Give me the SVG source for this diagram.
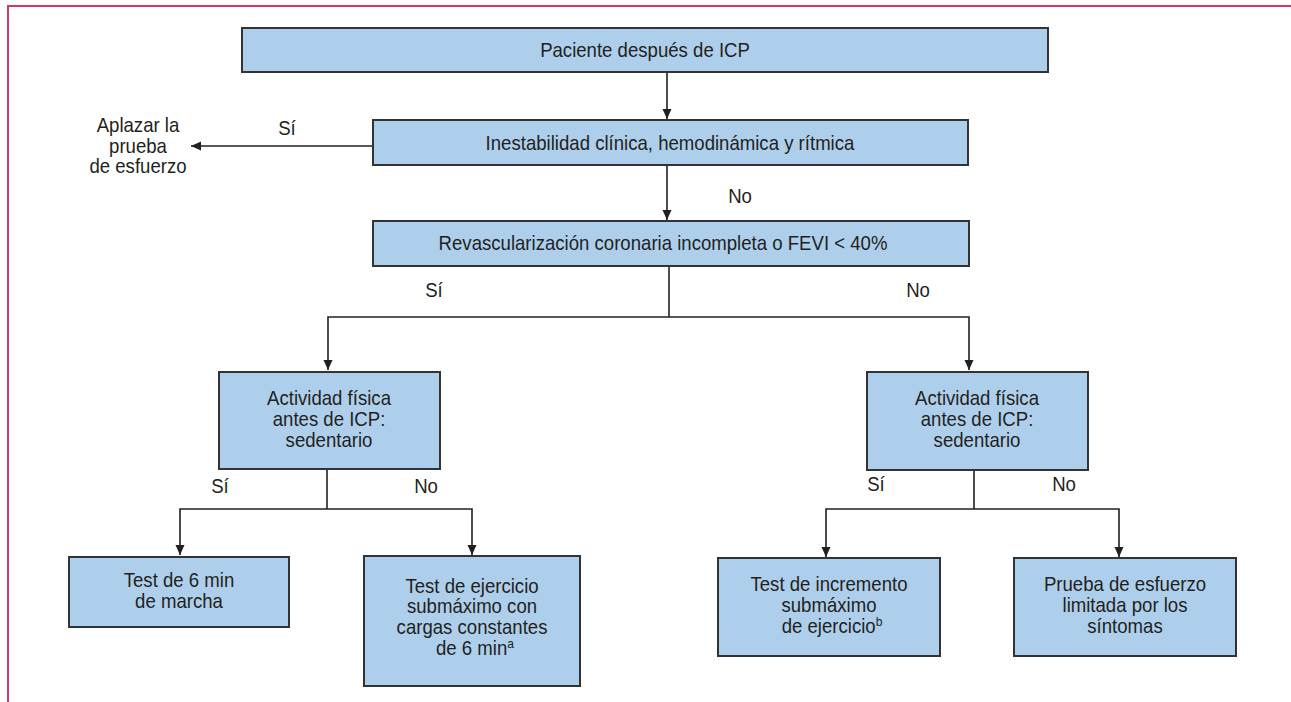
<svg xmlns="http://www.w3.org/2000/svg" width="1291" height="702" viewBox="0 0 1291 702">
  <style>
    .frame { fill: none; stroke: #d13a63; stroke-width: 2; }
    .box { fill: #aecfec; stroke: #333333; stroke-width: 2; }
    .txt { font-family: "Liberation Sans Narrow", "Liberation Sans", Arial, sans-serif; font-size: 20px; fill: #231f20; text-anchor: middle; }
    .sup { font-size: 13px; }
    .wire { fill: none; stroke: #231f20; stroke-width: 1.6; }
    .arrow { fill: none; stroke: #231f20; stroke-width: 1.6; marker-end: url(#head); }
  </style>
  <defs>
    <marker id="head" viewBox="0 0 10 10" refX="10" refY="5" markerWidth="10" markerHeight="10" markerUnits="userSpaceOnUse" orient="auto">
      <path d="M0,0.5 L10,5 L0,9.5 Z" fill="#231f20"/>
    </marker>
  </defs>

  <rect width="1291" height="702" fill="#ffffff"/>
  <!-- page frame -->
  <path class="frame" d="M8,702 L8,6 L1291,6"/>

  <!-- connectors; labels are condensed horizontally with a matrix -->
  <g id="connectors">
    <line class="arrow" x1="667" y1="72" x2="667" y2="119"/>
    <line class="arrow" x1="373" y1="146" x2="191" y2="146"/>
    <line class="arrow" x1="667" y1="165" x2="667" y2="220"/>
    <polyline class="wire" points="669,266 669,317"/>
    <polyline class="arrow" points="669,317 328,317 328,370"/>
    <polyline class="arrow" points="669,317 969,317 969,370"/>
    <polyline class="wire" points="327,469 327,509"/>
    <polyline class="arrow" points="327,509 180,509 180,555"/>
    <polyline class="arrow" points="327,509 472,509 472,555"/>
    <polyline class="wire" points="974,470 974,509"/>
    <polyline class="arrow" points="974,509 826,509 826,557"/>
    <polyline class="arrow" points="974,509 1119,509 1119,557"/>
    <text class="txt" transform="matrix(0.93 0 0 1 287 135)">Sí</text>
    <text class="txt" transform="matrix(0.93 0 0 1 740 203)">No</text>
    <text class="txt" transform="matrix(0.93 0 0 1 434 297)">Sí</text>
    <text class="txt" transform="matrix(0.93 0 0 1 918 297)">No</text>
    <text class="txt" transform="matrix(0.93 0 0 1 220 493)">Sí</text>
    <text class="txt" transform="matrix(0.93 0 0 1 426 493)">No</text>
    <text class="txt" transform="matrix(0.93 0 0 1 876 491)">Sí</text>
    <text class="txt" transform="matrix(0.93 0 0 1 1064 491)">No</text>
  </g>

  <g id="n-paciente">
    <rect class="box" x="242" y="28" width="806" height="44"/>
    <text class="txt" transform="matrix(0.93 0 0 1 645 57)">Paciente después de ICP</text>
  </g>

  <g id="n-inestabilidad">
    <rect class="box" x="373" y="120" width="595" height="45"/>
    <text class="txt" transform="matrix(0.93 0 0 1 670 150)">Inestabilidad clínica, hemodinámica y rítmica</text>
  </g>

  <g id="n-aplazar">
    <text class="txt" transform="matrix(0.93 0 0 1 138 132)">Aplazar la</text>
    <text class="txt" transform="matrix(0.93 0 0 1 138 153)">prueba</text>
    <text class="txt" transform="matrix(0.93 0 0 1 138 173)">de esfuerzo</text>
  </g>

  <g id="n-revascularizacion">
    <rect class="box" x="373" y="221" width="596" height="45"/>
    <text class="txt" transform="matrix(0.93 0 0 1 663 250)">Revascularización coronaria incompleta o FEVI &lt; 40%</text>
  </g>

  <g id="n-actividad-izq">
    <rect class="box" x="219" y="372" width="221" height="97"/>
    <text class="txt" transform="matrix(0.93 0 0 1 329 405)">Actividad física</text>
    <text class="txt" transform="matrix(0.93 0 0 1 329 426)">antes de ICP:</text>
    <text class="txt" transform="matrix(0.93 0 0 1 329 447)">sedentario</text>
  </g>

  <g id="n-actividad-der">
    <rect class="box" x="867" y="372" width="221" height="98"/>
    <text class="txt" transform="matrix(0.93 0 0 1 977 405)">Actividad física</text>
    <text class="txt" transform="matrix(0.93 0 0 1 977 426)">antes de ICP:</text>
    <text class="txt" transform="matrix(0.93 0 0 1 977 447)">sedentario</text>
  </g>

  <g id="n-test-6min">
    <rect class="box" x="69" y="557" width="220" height="70"/>
    <text class="txt" transform="matrix(0.93 0 0 1 179 587)">Test de 6 min</text>
    <text class="txt" transform="matrix(0.93 0 0 1 179 608)">de marcha</text>
  </g>

  <g id="n-test-cargas">
    <rect class="box" x="364" y="556" width="216" height="130"/>
    <text class="txt" transform="matrix(0.93 0 0 1 472 593)">Test de ejercicio</text>
    <text class="txt" transform="matrix(0.93 0 0 1 472 613)">submáximo con</text>
    <text class="txt" transform="matrix(0.93 0 0 1 472 634)">cargas constantes</text>
    <text class="txt" transform="matrix(0.93 0 0 1 475 655)">de 6 min<tspan class="sup" dy="-7">a</tspan></text>
  </g>

  <g id="n-test-incremento">
    <rect class="box" x="718" y="558" width="222" height="98"/>
    <text class="txt" transform="matrix(0.93 0 0 1 829 591)">Test de incremento</text>
    <text class="txt" transform="matrix(0.93 0 0 1 829 612)">submáximo</text>
    <text class="txt" transform="matrix(0.93 0 0 1 832 633)">de ejercicio<tspan class="sup" dy="-7">b</tspan></text>
  </g>

  <g id="n-prueba-limitada">
    <rect class="box" x="1014" y="558" width="222" height="98"/>
    <text class="txt" transform="matrix(0.93 0 0 1 1125 591)">Prueba de esfuerzo</text>
    <text class="txt" transform="matrix(0.93 0 0 1 1125 612)">limitada por los</text>
    <text class="txt" transform="matrix(0.93 0 0 1 1125 633)">síntomas</text>
  </g>
</svg>
